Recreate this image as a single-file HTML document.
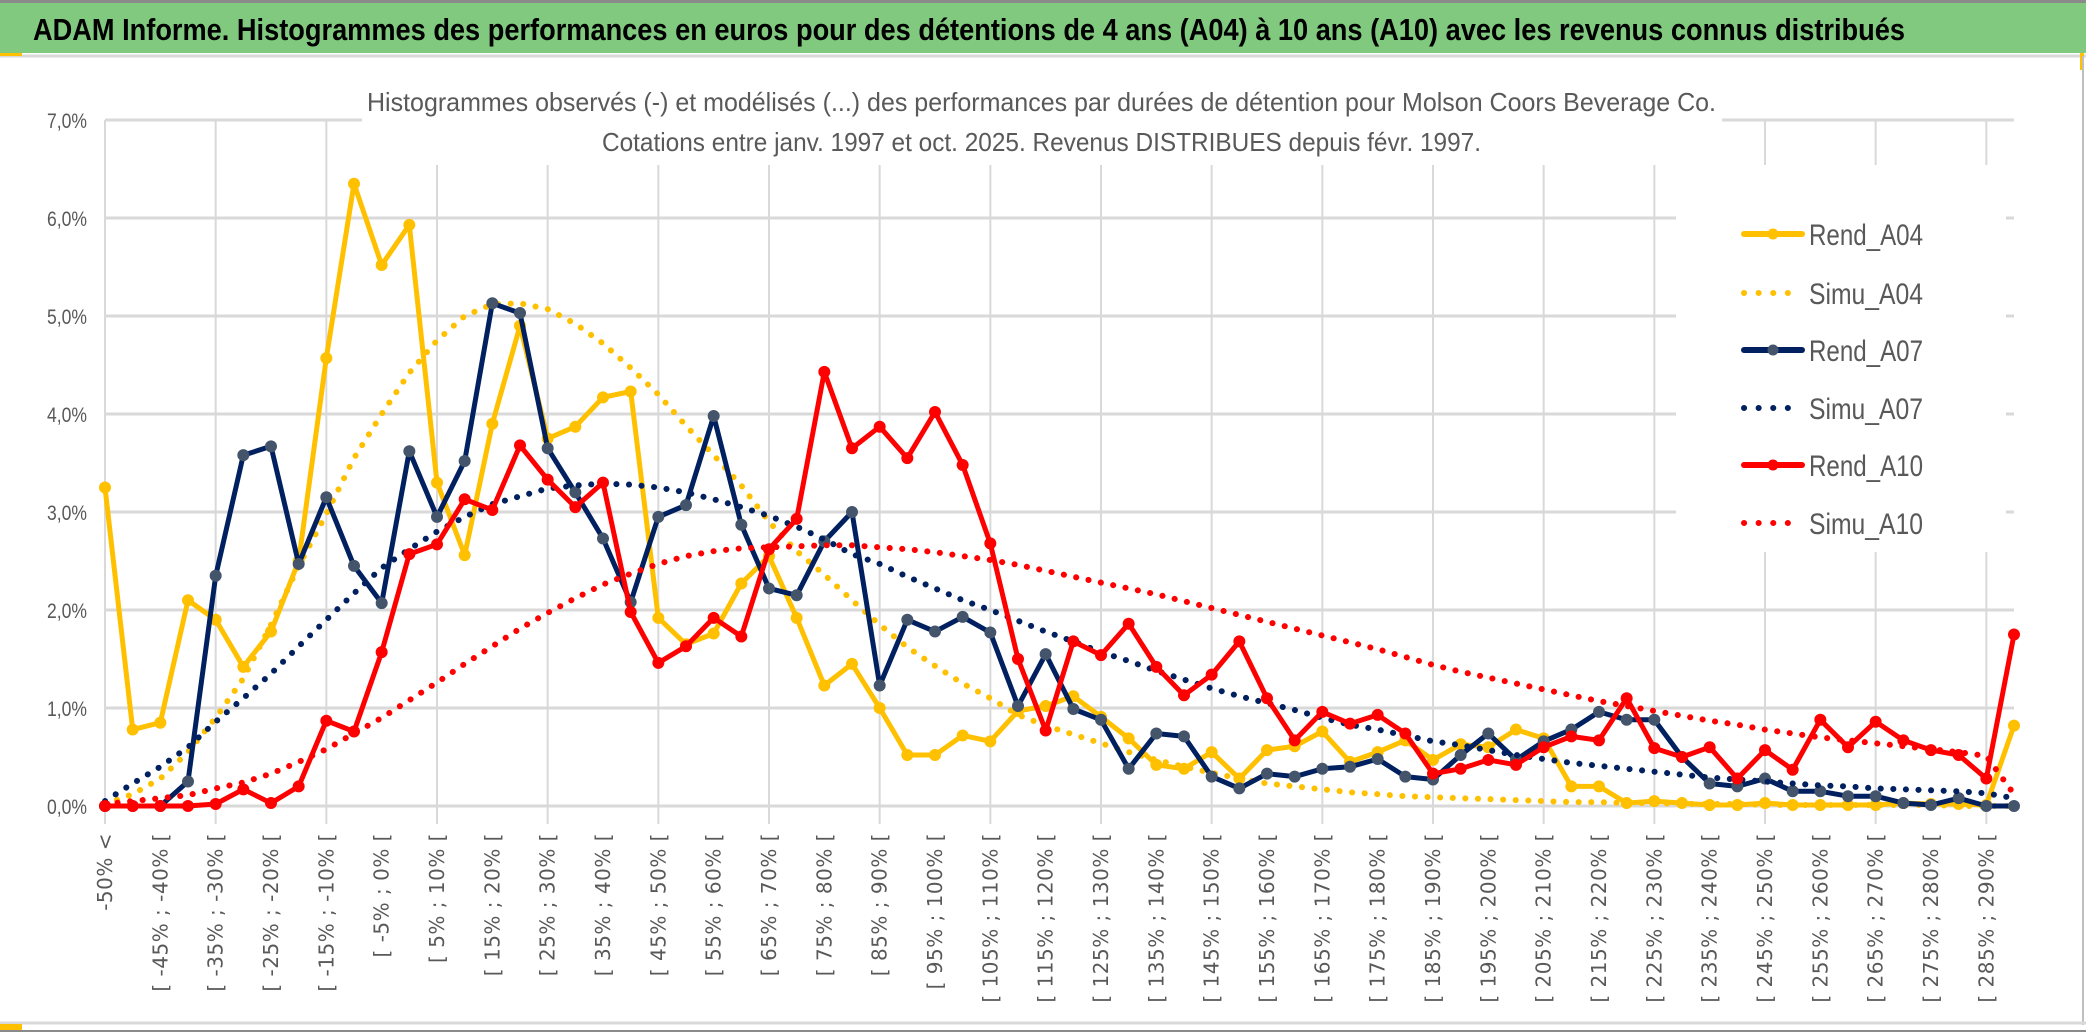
<!DOCTYPE html>
<html><head><meta charset="utf-8">
<style>
html,body{margin:0;padding:0;background:#fff;}
svg{display:block;}
</style></head>
<body>
<svg id="chart" width="2086" height="1033" viewBox="0 0 2086 1033" xmlns="http://www.w3.org/2000/svg">
  <rect x="0" y="0" width="2086" height="1033" fill="#ffffff"/>
  <rect x="0" y="3" width="2086" height="50" fill="#80C97F"/>
  <line x1="0" y1="1.5" x2="2086" y2="1.5" stroke="#8a8a8a" stroke-width="3"/>
  <line x1="0" y1="56" x2="2086" y2="56" stroke="#d9d9d9" stroke-width="3"/>
  <rect x="0" y="53" width="22" height="3" fill="#FFC000"/>
  <rect x="2080" y="53" width="4" height="17" fill="#FFC000"/>
  <line x1="2083" y1="56" x2="2083" y2="1025" stroke="#bfbfbf" stroke-width="2"/>
  <line x1="0" y1="1023" x2="2086" y2="1023" stroke="#d9d9d9" stroke-width="3"/>
  <line x1="0" y1="1031" x2="2086" y2="1031" stroke="#8a8a8a" stroke-width="2"/>
  <rect x="0" y="1024" width="22" height="6" fill="#FFC000"/>
  <text x="33" y="40" font-family="Liberation Sans, sans-serif" font-weight="bold" font-size="31" fill="#000" textLength="1872" lengthAdjust="spacingAndGlyphs">ADAM Informe. Histogrammes des performances en euros pour des détentions de 4 ans (A04) à 10 ans (A10) avec les revenus connus distribués</text>
  <g id="grid"></g>
  <rect x="362" y="70" width="1360" height="95" fill="#fff"/>
  <rect x="1676" y="165" width="330" height="387" fill="#fff"/>
  <text x="367" y="111" font-family="Liberation Sans, sans-serif" font-size="26" fill="#595959" textLength="1349" lengthAdjust="spacingAndGlyphs">Histogrammes observés (-) et modélisés (...) des performances par durées de détention pour Molson Coors Beverage Co.</text>
  <text x="602" y="151" font-family="Liberation Sans, sans-serif" font-size="26" fill="#595959" textLength="879" lengthAdjust="spacingAndGlyphs">Cotations entre janv. 1997 et oct. 2025. Revenus DISTRIBUES depuis févr. 1997.</text>
  <g id="yaxis"></g>
  <g id="xaxis"></g>
  <g id="series"></g>
  <g id="legend"></g>
</svg>
<script>
const yTicks = [0,1,2,3,4,5,6,7];
const yTickLabels = ["0,0%","1,0%","2,0%","3,0%","4,0%","5,0%","6,0%","7,0%"];
const categories = ["-50% <"];
for (let k = 1; k < 70; k++) { categories.push("[ " + (-55 + 5*k) + "% ; " + (-50 + 5*k) + "% ["); }
const rendA04 = [3.25,0.78,0.85,2.1,1.9,1.42,1.78,2.5,4.57,6.35,5.52,5.93,3.3,2.56,3.9,4.9,3.75,3.87,4.17,4.23,1.92,1.65,1.76,2.27,2.55,1.92,1.23,1.45,1.0,0.52,0.52,0.72,0.66,0.97,1.02,1.12,0.91,0.69,0.42,0.38,0.55,0.28,0.57,0.61,0.76,0.45,0.55,0.67,0.47,0.63,0.6,0.78,0.69,0.2,0.2,0.03,0.05,0.03,0.01,0.01,0.03,0.01,0.01,0.01,0.01,0.03,0.02,0.02,0.01,0.82];
const simuA04 = [0.02,0.12,0.28,0.55,0.9,1.3,1.85,2.45,2.98,3.55,4.0,4.42,4.75,5.0,5.12,5.13,5.07,4.92,4.72,4.47,4.2,3.88,3.58,3.27,2.9,2.6,2.36,2.1,1.85,1.62,1.43,1.25,1.1,0.93,0.82,0.73,0.64,0.55,0.47,0.4,0.34,0.28,0.23,0.2,0.17,0.14,0.12,0.1,0.09,0.08,0.07,0.06,0.05,0.04,0.04,0.03,0.03,0.02,0.02,0.02,0.01,0.01,0.01,0.01,0.01,0.01,0.01,0.0,0.0,0.0];
const rendA07 = [0,0,0,0.25,2.35,3.58,3.67,2.47,3.15,2.45,2.07,3.62,2.95,3.52,5.13,5.03,3.65,3.2,2.73,2.08,2.95,3.07,3.98,2.87,2.22,2.15,2.7,3.0,1.23,1.9,1.78,1.93,1.77,1.02,1.55,0.99,0.88,0.38,0.74,0.71,0.3,0.18,0.33,0.3,0.38,0.4,0.48,0.3,0.27,0.52,0.74,0.47,0.66,0.78,0.96,0.88,0.88,0.5,0.23,0.2,0.28,0.15,0.15,0.1,0.1,0.03,0.01,0.08,0,0];
const simuA07 = [0.05,0.23,0.4,0.6,0.86,1.1,1.35,1.63,1.9,2.17,2.43,2.62,2.8,2.95,3.08,3.16,3.24,3.27,3.29,3.28,3.25,3.2,3.13,3.05,2.96,2.85,2.72,2.57,2.47,2.34,2.22,2.1,2.0,1.89,1.78,1.68,1.57,1.48,1.38,1.29,1.2,1.12,1.05,0.98,0.9,0.83,0.78,0.72,0.66,0.62,0.57,0.52,0.48,0.44,0.41,0.38,0.35,0.32,0.29,0.27,0.25,0.23,0.21,0.2,0.18,0.17,0.16,0.15,0.13,0.08];
const rendA10 = [0,0,0,0,0.02,0.17,0.03,0.2,0.87,0.76,1.57,2.57,2.67,3.13,3.02,3.68,3.33,3.05,3.3,1.98,1.46,1.63,1.92,1.73,2.62,2.93,4.43,3.65,3.87,3.55,4.02,3.48,2.68,1.5,0.77,1.68,1.54,1.86,1.42,1.13,1.34,1.68,1.1,0.67,0.96,0.84,0.93,0.74,0.33,0.38,0.47,0.42,0.6,0.71,0.67,1.1,0.59,0.5,0.6,0.28,0.57,0.37,0.88,0.6,0.86,0.67,0.57,0.52,0.28,1.75];
const simuA10 = [0.02,0.05,0.08,0.11,0.18,0.24,0.33,0.45,0.58,0.74,0.9,1.08,1.26,1.45,1.63,1.81,1.97,2.12,2.26,2.37,2.47,2.55,2.6,2.63,2.64,2.65,2.66,2.66,2.64,2.62,2.59,2.55,2.51,2.46,2.4,2.34,2.28,2.22,2.16,2.09,2.02,1.95,1.88,1.81,1.74,1.67,1.6,1.52,1.44,1.37,1.31,1.25,1.19,1.13,1.07,1.02,0.97,0.92,0.87,0.83,0.78,0.74,0.7,0.67,0.64,0.61,0.58,0.55,0.51,0.12];
const seriesNames = ["Rend_A04","Simu_A04","Rend_A07","Simu_A07","Rend_A10","Simu_A10"];

const NS = "http://www.w3.org/2000/svg";
const X0 = 105, X1 = 2014, Y0 = 806, PER = 98;
function xPos(i){ return X0 + i*(X1-X0)/(categories.length-1); }
function yPos(v){ return Y0 - v*PER; }
function mk(tag, attrs, parent){ const e=document.createElementNS(NS,tag); for(const k in attrs) e.setAttribute(k,attrs[k]); parent.appendChild(e); return e; }

const grid = document.getElementById('grid');
yTicks.forEach(t=>{
  const l = mk('line',{x1:X0,x2:X1,y1:yPos(t),y2:yPos(t),stroke:'#d9d9d9','stroke-width':3},grid);
  
  
});
for(let i=0;i<categories.length;i+=4){
  const l = mk('line',{x1:xPos(i),x2:xPos(i),y1:yPos(7),y2:Y0+18,stroke:'#d9d9d9','stroke-width':2},grid);
  
  
}
const yaxis = document.getElementById('yaxis');
yTicks.forEach((t,k)=>{
  const tx = mk('text',{x:87,y:yPos(t)+8,'text-anchor':'end','font-family':'Liberation Sans, sans-serif','font-size':21,fill:'#595959',textLength:40,lengthAdjust:'spacingAndGlyphs'},yaxis);
  tx.textContent = yTickLabels[k];
  
  
});
const xaxis = document.getElementById('xaxis');
categories.forEach((c,i)=>{
  if(i%2!==0) return;
  const x = xPos(i)+7, y = 833;
  const tx = mk('text',{x:x,y:y,'text-anchor':'end',transform:`rotate(-90 ${x} ${y})`,'font-family':'DejaVu Sans, sans-serif','font-size':20,'letter-spacing':'0.5',fill:'#595959'},xaxis);
  tx.textContent = c;
  
  
});

const seriesEl = document.getElementById('series');
function drawSolid(data,color,marker,name){
  const g = mk('g',{},seriesEl);
  
  
  const pts = data.map((v,i)=>xPos(i).toFixed(1)+','+yPos(v).toFixed(1)).join(' ');
  mk('polyline',{points:pts,fill:'none',stroke:color,'stroke-width':5,'stroke-linejoin':'round'},g);
  data.forEach((v,i)=>{
    const c = mk('circle',{cx:xPos(i),cy:yPos(v),r:5.5,fill:marker,stroke:marker},g);
    
    
  });
}
function drawDotted(data,color,name){
  const pts = data.map((v,i)=>xPos(i).toFixed(1)+','+yPos(v).toFixed(1)).join(' ');
  const p = mk('polyline',{points:pts,fill:'none',stroke:color,'stroke-width':6,'stroke-linecap':'round','stroke-dasharray':'0.1 12.5'},seriesEl);
  
  
}
drawSolid(rendA04,'#FFC000','#FFC000','rend-a04-line');
drawDotted(simuA04,'#FFC000','simu-a04-line');
drawSolid(rendA07,'#002060','#44546A','rend-a07-line');
drawDotted(simuA07,'#002060','simu-a07-line');
drawSolid(rendA10,'#FF0000','#FF0000','rend-a10-line');
drawDotted(simuA10,'#FF0000','simu-a10-line');

const legend = document.getElementById('legend');
const legColors = ['#FFC000','#FFC000','#002060','#002060','#FF0000','#FF0000'];
const legMarkers = ['#FFC000',null,'#44546A',null,'#FF0000',null];
const legY = [234,293,350,408,465,523];
seriesNames.forEach((n,k)=>{
  const g = mk('g',{},legend);
  
  
  const y = legY[k];
  if(legMarkers[k]){
    mk('line',{x1:1744,x2:1802,y1:y,y2:y,stroke:legColors[k],'stroke-width':6,'stroke-linecap':'round'},g);
    mk('circle',{cx:1773,cy:y,r:5.5,fill:legMarkers[k]},g);
  } else {
    mk('line',{x1:1744,x2:k===5?1802:1790,y1:y,y2:y,stroke:legColors[k],'stroke-width':6,'stroke-linecap':'round','stroke-dasharray':'0.1 14.5'},g);
  }
  const t = mk('text',{x:1809,y:y+11,'font-family':'Liberation Sans, sans-serif','font-size':30,fill:'#595959',textLength:114,lengthAdjust:'spacingAndGlyphs'},g);
  t.textContent = n;
});
</script>
</body></html>
